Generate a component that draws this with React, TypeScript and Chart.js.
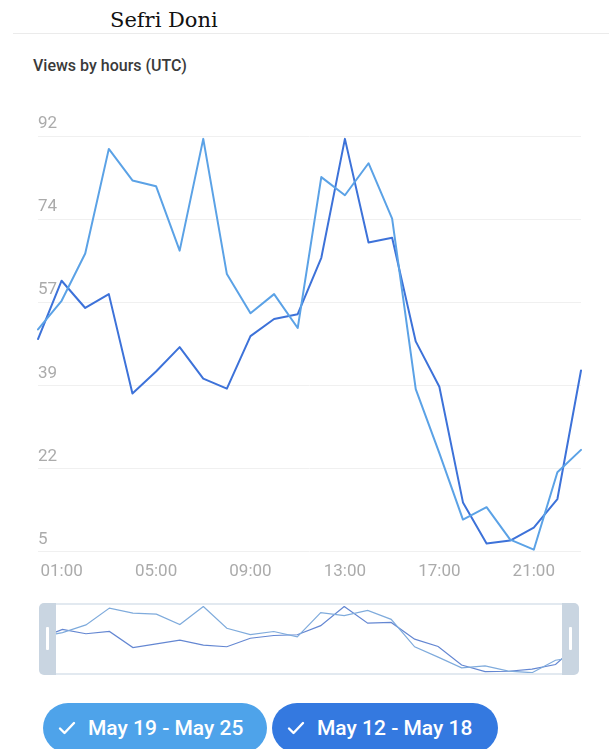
import React, { useEffect, useRef } from 'react';
import { Chart, registerables } from 'chart.js';

Chart.register(...registerables);

const PAGE_TITLE = 'Sefri Doni';
const CHART_TITLE = 'Views by hours (UTC)';

const HOURS = [
  '00:00', '01:00', '02:00', '03:00', '04:00', '05:00', '06:00', '07:00',
  '08:00', '09:00', '10:00', '11:00', '12:00', '13:00', '14:00', '15:00',
  '16:00', '17:00', '18:00', '19:00', '20:00', '21:00', '22:00', '23:00',
];
const X_TICK_LABELS = ['01:00', '05:00', '09:00', '13:00', '17:00', '21:00'];
const Y_TICK_VALUES = [5, 22.4, 39.8, 57.2, 74.6, 92];
const Y_TICK_LABELS = ['5', '22', '39', '57', '74', '92'];

const SERIES_A_NAME = 'May 19 - May 25';
const SERIES_A = [
  51.5, 57.5, 67.4, 89.3, 82.7, 81.5, 68.0, 91.4, 63.1, 54.9, 58.9, 51.8,
  83.4, 79.6, 86.3, 74.7, 39.0, 25.6, 11.7, 14.3, 7.5, 5.4, 21.6, 26.3,
];
const SERIES_B_NAME = 'May 12 - May 18';
const SERIES_B = [
  49.5, 61.7, 56.0, 58.9, 38.1, 42.7, 47.8, 41.2, 39.1, 50.1, 53.7, 54.7,
  66.5, 91.4, 69.7, 70.7, 49.0, 39.5, 15.3, 6.7, 7.3, 10.0, 16.0, 42.9,
];

const COLOR_A = '#5ba2e6';
const COLOR_B = '#3d72d9';
const BTN_A = '#4ea3ea';
const BTN_B = '#3479e0';
const TICK_COLOR = '#ababab';

function Check() {
  return (
    <svg width="18" height="14" viewBox="0 0 18 14" style={{ display: 'block' }}>
      <polyline points="2,7.5 6.5,12 16,2" fill="none" stroke="#fff" strokeWidth="2.4" strokeLinecap="round" strokeLinejoin="round" />
    </svg>
  );
}

function LegendButton(props: { left: number; width: number; color: string; label: string }) {
  return (
    <div
      style={{
        position: 'absolute', left: props.left, top: 703, width: props.width, height: 50,
        borderRadius: 25, background: props.color, display: 'flex', alignItems: 'center',
        boxSizing: 'border-box', paddingLeft: 15,
      }}
    >
      <Check />
      <span style={{ marginLeft: 12, color: '#fff', font: '500 21px Roboto, sans-serif', lineHeight: '21px' }}>
        {props.label}
      </span>
    </div>
  );
}

export default function App() {
  const mainRef = useRef<HTMLCanvasElement | null>(null);
  const navRef = useRef<HTMLCanvasElement | null>(null);

  useEffect(() => {
    if (!mainRef.current || !navRef.current) return;
    const tickFont = { family: 'Roboto', size: 17 };
    const main = new Chart(mainRef.current, {
      type: 'line',
      data: {
        labels: HOURS,
        datasets: [
          { label: SERIES_A_NAME, data: SERIES_A, borderColor: COLOR_A, borderWidth: 2 },
          { label: SERIES_B_NAME, data: SERIES_B, borderColor: COLOR_B, borderWidth: 2 },
        ],
      },
      options: {
        animation: false,
        responsive: false,
        maintainAspectRatio: false,
        layout: { padding: { left: 38, right: 28, top: 36, bottom: 21 } },
        plugins: { legend: { display: false }, tooltip: { enabled: false } },
        elements: {
          point: { radius: 0 },
          line: { tension: 0, borderJoinStyle: 'round', borderCapStyle: 'round' },
        },
        scales: {
          x: {
            type: 'category',
            offset: false,
            grid: { display: false, drawTicks: false },
            border: { display: false },
            ticks: {
              autoSkip: false,
              maxRotation: 0,
              padding: 10,
              color: TICK_COLOR,
              font: tickFont,
              callback: (_v: any, i: number) => (X_TICK_LABELS.includes(HOURS[i]) ? HOURS[i] : ''),
            },
          },
          y: {
            min: Y_TICK_VALUES[0],
            max: Y_TICK_VALUES[Y_TICK_VALUES.length - 1],
            afterBuildTicks: (s: any) => {
              s.ticks = Y_TICK_VALUES.map((v) => ({ value: v }));
            },
            grid: { color: '#f0f0f0', drawTicks: false, lineWidth: 1 },
            border: { display: false },
            ticks: {
              mirror: true,
              padding: 0,
              labelOffset: -12,
              color: TICK_COLOR,
              font: tickFont,
              callback: (_v: any, i: number) => Y_TICK_LABELS[i],
            },
          },
        },
      },
    } as any);

    const nav = new Chart(navRef.current, {
      type: 'line',
      data: {
        labels: HOURS,
        datasets: [
          { label: SERIES_A_NAME, data: SERIES_A, borderColor: '#7fabdc', borderWidth: 1.2 },
          { label: SERIES_B_NAME, data: SERIES_B, borderColor: '#6487d2', borderWidth: 1.2 },
        ],
      },
      options: {
        animation: false,
        responsive: false,
        maintainAspectRatio: false,
        layout: { padding: { left: 0, right: 0, top: 2, bottom: 2 } },
        plugins: { legend: { display: false }, tooltip: { enabled: false } },
        elements: { point: { radius: 0 }, line: { tension: 0 } },
        scales: {
          x: { display: false, offset: false },
          y: { display: false, min: 5, max: 92 },
        },
      },
    } as any);

    return () => {
      main.destroy();
      nav.destroy();
    };
  }, []);

  return (
    <div style={{ position: 'absolute', left: 0, top: 0, width: 609, height: 749, overflow: 'hidden', background: '#fff' }}>
      <div style={{ position: 'absolute', left: 110, top: 10, font: '21px "DejaVu Serif", serif', lineHeight: '21px', color: '#111', whiteSpace: 'nowrap' }}>
        {PAGE_TITLE}
      </div>
      <div style={{ position: 'absolute', left: 13, top: 33, width: 596, height: 1, background: '#ebebeb' }} />
      <div style={{ position: 'absolute', left: 33, top: 58, font: '500 16px Roboto, sans-serif', lineHeight: '16px', color: '#3a3a3a', whiteSpace: 'nowrap' }}>
        {CHART_TITLE}
      </div>
      <canvas ref={mainRef} width={609} height={513} style={{ position: 'absolute', left: 0, top: 100, width: 609, height: 513, display: 'block' }} />
      <canvas ref={navRef} width={540} height={71} style={{ position: 'absolute', left: 39, top: 604, width: 540, height: 71, display: 'block' }} />
      <div style={{ position: 'absolute', left: 56, top: 603, width: 506, height: 2, background: '#e2e9f0' }} />
      <div style={{ position: 'absolute', left: 56, top: 673, width: 506, height: 2, background: '#e2e9f0' }} />
      <div style={{ position: 'absolute', left: 39, top: 603, width: 17, height: 72, background: '#c9d5e1', borderRadius: '5px 0 0 5px' }}>
        <div style={{ position: 'absolute', left: 7, top: 24, width: 3, height: 23, background: '#fff', borderRadius: 1 }} />
      </div>
      <div style={{ position: 'absolute', left: 562, top: 603, width: 17, height: 72, background: '#c9d5e1', borderRadius: '0 5px 5px 0' }}>
        <div style={{ position: 'absolute', left: 7, top: 24, width: 3, height: 23, background: '#fff', borderRadius: 1 }} />
      </div>
      <LegendButton left={43} width={224} color={BTN_A} label={SERIES_A_NAME} />
      <LegendButton left={272} width={226} color={BTN_B} label={SERIES_B_NAME} />
    </div>
  );
}
